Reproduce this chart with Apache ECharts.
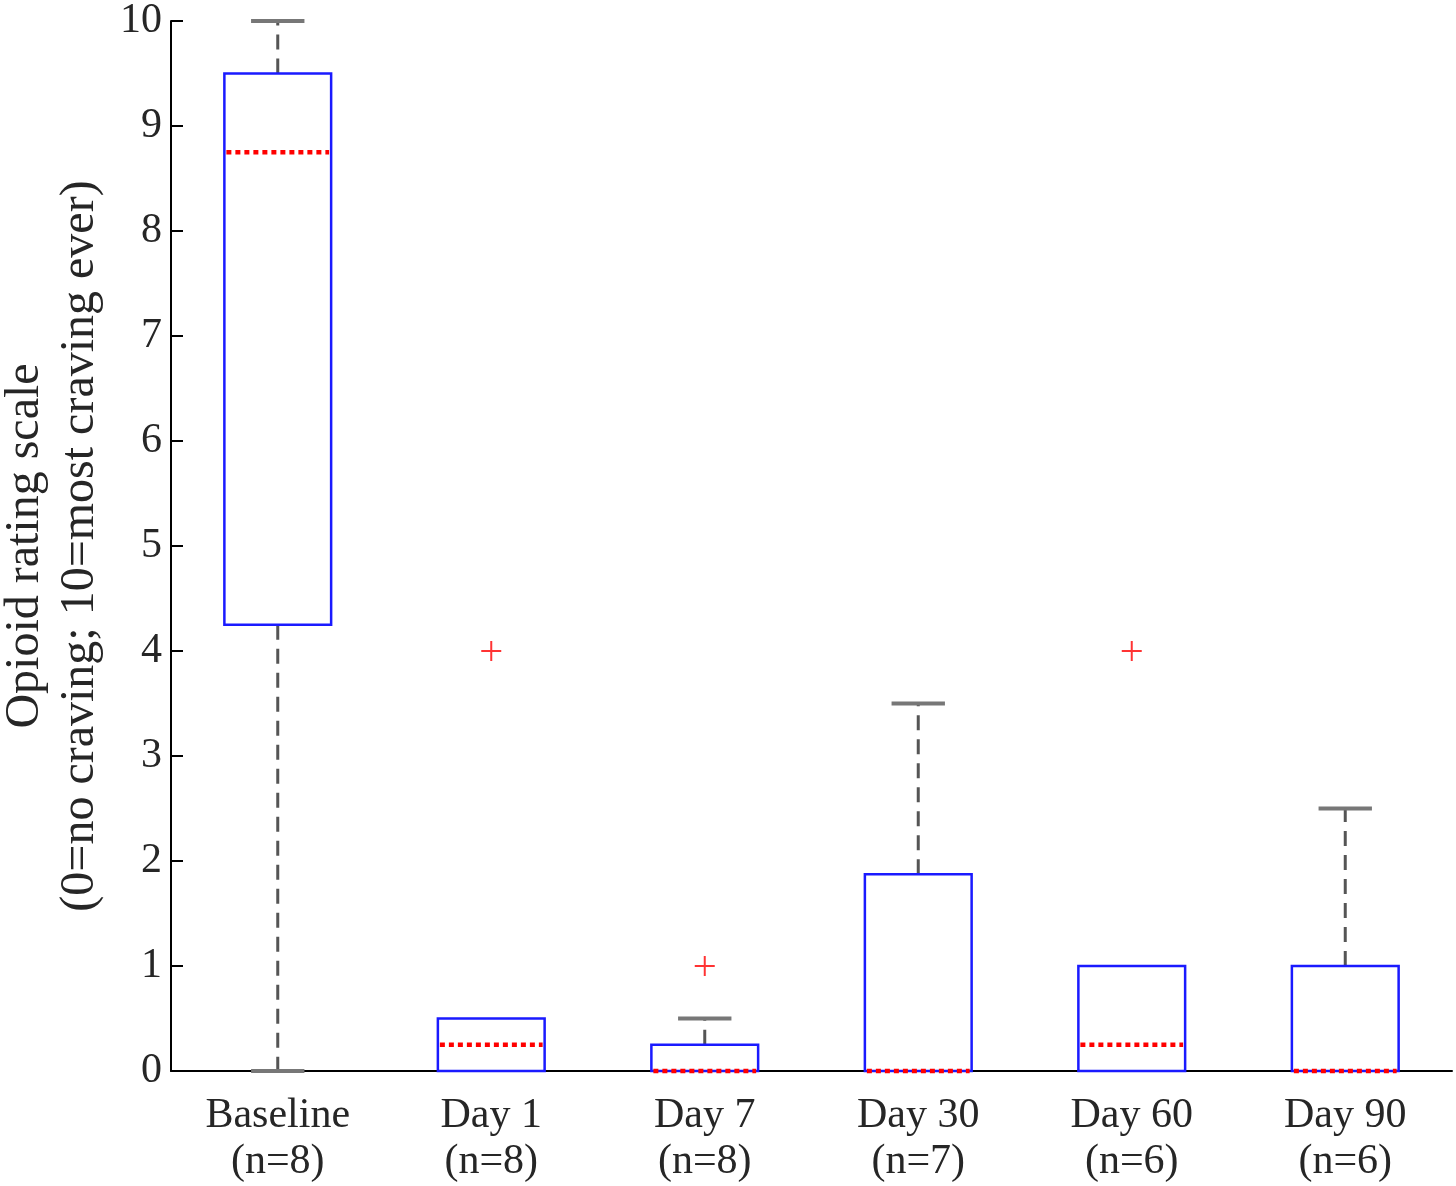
<!DOCTYPE html>
<html><head><meta charset="utf-8">
<script src="https://cdn.jsdelivr.net/npm/echarts@6/dist/echarts.min.js"></script>
<style>html,body{margin:0;padding:0;background:#fff}#c{width:1456px;height:1186px}</style>
</head><body><div id="c"></div>
<script>
var categories = ['Baseline\n(n=8)', 'Day 1\n(n=8)', 'Day 7\n(n=8)', 'Day 30\n(n=7)', 'Day 60\n(n=6)', 'Day 90\n(n=6)'];
var whiskerLow = [0, 0, 0, 0, 0, 0];
var q1 = [4.25, 0, 0, 0, 0, 0];
var median = [8.75, 0.25, 0, 0, 0.25, 0];
var q3 = [9.5, 0.5, 0.25, 1.875, 1, 1];
var whiskerHigh = [10, 0.5, 0.5, 3.5, 1, 2.5];
var outlierCats = [1, 2, 4];
var outlierVals = [4, 1, 4];
var yTicks = [0, 1, 2, 3, 4, 5, 6, 7, 8, 9, 10];

var boxData = categories.map(function (c, i) {
  return [i, whiskerLow[i], q1[i], median[i], q3[i], whiskerHigh[i]];
});
var outData = outlierCats.map(function (c, i) { return [c, outlierVals[i]]; });

var chart = echarts.init(document.getElementById('c'), null, {renderer: 'canvas'});
var font = '"Liberation Serif","Times New Roman",serif';
var txt = '#262626';

function renderBox(params, api) {
  var idx = api.value(0);
  var bw = api.size([1, 0])[0] * 0.5;
  var capW = bw * 0.5;
  var x = api.coord([idx, 0])[0];
  var yMin = api.coord([idx, api.value(1)])[1];
  var yQ1 = api.coord([idx, api.value(2)])[1];
  var yMed = api.coord([idx, api.value(3)])[1];
  var yQ3 = api.coord([idx, api.value(4)])[1];
  var yMax = api.coord([idx, api.value(5)])[1];
  var wStyle = {stroke: '#555555', lineWidth: 3, lineDash: [15, 9]};
  var capStyle = {stroke: '#777777', lineWidth: 4};
  var children = [];
  if (yQ1 !== yMin) {
    children.push({type: 'line', shape: {x1: x, y1: yQ1, x2: x, y2: yMin}, style: wStyle});
    children.push({type: 'line', shape: {x1: x - capW / 2, y1: yMin, x2: x + capW / 2, y2: yMin}, style: capStyle});
  }
  if (yQ3 !== yMax) {
    children.push({type: 'line', shape: {x1: x, y1: yQ3, x2: x, y2: yMax}, style: wStyle});
    children.push({type: 'line', shape: {x1: x - capW / 2, y1: yMax, x2: x + capW / 2, y2: yMax}, style: capStyle});
  }
  children.push({type: 'rect', shape: {x: x - bw / 2, y: yQ3, width: bw, height: yQ1 - yQ3},
    style: {fill: 'none', stroke: '#1a1aff', lineWidth: 2.5}});
  children.push({type: 'line', shape: {x1: x - bw / 2 + 2, y1: yMed, x2: x + bw / 2 - 2, y2: yMed},
    style: {stroke: '#ff0000', lineWidth: 4.5, lineDash: [5, 4]}});
  return {type: 'group', children: children};
}

chart.setOption({
  animation: false,
  backgroundColor: '#ffffff',
  grid: {left: 171, right: 4, top: 21, bottom: 115, containLabel: false, outerBoundsMode: 'none'},
  xAxis: {
    type: 'category',
    data: categories,
    boundaryGap: true,
    axisLine: {lineStyle: {color: '#000', width: 2}},
    axisTick: {inside: true, alignWithLabel: true, length: 12, lineStyle: {color: '#000', width: 2}},
    axisLabel: {fontFamily: font, fontSize: 42, color: txt, lineHeight: 46, margin: 22, interval: 0}
  },
  yAxis: {
    type: 'value',
    min: 0, max: 10, interval: 1,
    axisLine: {show: true, lineStyle: {color: '#000', width: 2}},
    axisTick: {show: true, inside: true, length: 12, lineStyle: {color: '#000', width: 2}},
    splitLine: {show: false},
    axisLabel: {fontFamily: font, fontSize: 42, color: txt, margin: 9,
      formatter: function (v) { return yTicks.indexOf(v) >= 0 ? String(v) : ''; }},
    name: 'Opioid rating scale\n(0=no craving; 10=most craving ever)',
    nameLocation: 'middle',
    nameRotate: 90,
    nameGap: 63,
    nameTextStyle: {fontFamily: font, fontSize: 48, color: txt, lineHeight: 55}
  },
  series: [
    {type: 'custom', renderItem: renderBox, data: boxData, encode: {x: 0, y: [1, 2, 3, 4, 5]}, z: 5, clip: false},
    {type: 'scatter', data: outData, symbol: 'path://M10 0 L10 20 M0 10 L20 10', symbolSize: 20,
      itemStyle: {color: 'none', borderColor: '#ff0000', borderWidth: 2}, z: 6}
  ]
});
</script></body></html>
